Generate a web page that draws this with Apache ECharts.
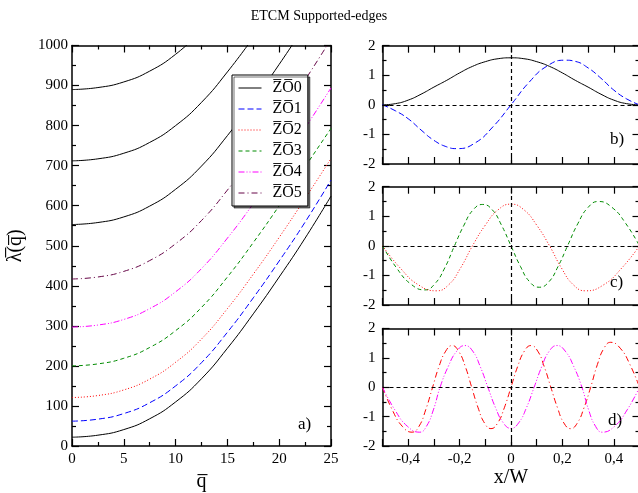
<!DOCTYPE html>
<html>
<head>
<meta charset="utf-8">
<script src="https://cdn.jsdelivr.net/npm/echarts@6/dist/echarts.min.js"></script>
<style>
html,body{margin:0;padding:0;background:#fff;}
#chart{width:638px;height:493px;}
</style>
</head>
<body>
<div id="chart"></div>
<script>
// ---------- Panel a) : dispersion curves ----------
const qVals = [0, 2.5, 5, 7.5, 10, 12.5, 15, 17.5, 20, 22.5, 25];
const ZO0 = [22, 27, 41, 68, 110, 168, 244, 330, 422, 519, 624];
const ZO1 = [62, 67, 81, 108, 150, 208, 284, 370, 462, 559, 664];
const ZO2 = [121, 126, 140, 167, 209, 267, 343, 429, 521, 618, 718];
const ZO3 = [200, 205, 219, 246, 288, 346, 422, 508, 600, 697, 793];
const ZO4 = [297, 302, 316, 343, 385, 443, 519, 605, 697, 794, 894];
const ZO5 = [417, 422, 436, 463, 505, 563, 639, 725, 817, 914, 1016];
const ZO0_hi1 = [553, 558, 572, 599, 641, 699, 775, 861, 953, 1050];
const ZO0_hi2 = [712, 717, 731, 758, 800, 858, 934, 1020];
const ZO0_hi3 = [890, 895, 909, 936, 978, 1036];

// ---------- Panel b) ----------
const bX0 = [-0.5,-0.45,-0.4,-0.35,-0.3,-0.25,-0.2,-0.15,-0.1,-0.05,0,0.05,0.1,0.15,0.2,0.25,0.3,0.35,0.4,0.45,0.5];
const bY0 = [0,0.04,0.16,0.36,0.6,0.83,1.08,1.3,1.46,1.56,1.59,1.56,1.46,1.3,1.08,0.83,0.6,0.36,0.16,0.04,0];
const bX1 = [-0.5,-0.45,-0.4,-0.35,-0.3,-0.25,-0.21,-0.14,-0.07,0,0.07,0.14,0.21,0.25,0.3,0.35,0.4,0.45,0.5];
const bY1 = [0,-0.2,-0.47,-0.85,-1.2,-1.42,-1.48,-1.29,-0.74,0,0.76,1.31,1.51,1.47,1.25,0.9,0.5,0.2,0];

// ---------- Panel c) ----------
const cX3 = [-0.5,-0.445,-0.39,-0.335,-0.297,-0.258,-0.22,-0.183,-0.147,-0.11,-0.073,-0.037,0,0.037,0.073,0.11,0.147,0.183,0.22,0.26,0.3,0.34,0.393,0.447,0.5];
const cY3 = [0,-0.75,-1.29,-1.49,-1.29,-0.75,0,0.7,1.22,1.4,1.22,0.7,0,-0.7,-1.22,-1.4,-1.22,-0.7,0,0.75,1.3,1.5,1.3,0.75,0];
const cX2 = [-0.5,-0.43,-0.36,-0.29,-0.243,-0.197,-0.15,-0.1,-0.05,0,0.05,0.1,0.15,0.197,0.243,0.29,0.36,0.43,0.5];
const cY2 = [0,-0.76,-1.32,-1.52,-1.32,-0.76,0,0.7,1.22,1.41,1.22,0.7,0,-0.76,-1.32,-1.52,-1.32,-0.76,0];

// ---------- Panel d) ----------
const dX5 = [-0.5,-0.462,-0.423,-0.385,-0.358,-0.332,-0.305,-0.28,-0.254,-0.229,-0.204,-0.178,-0.153,-0.128,-0.103,-0.078,-0.052,-0.026,0,0.026,0.052,0.078,0.104,0.129,0.155,0.181,0.206,0.232,0.258,0.284,0.31,0.336,0.362,0.388,0.425,0.463,0.5];
const dY5 = [0,-0.77,-1.33,-1.53,-1.33,-0.77,0,0.71,1.23,1.42,1.23,0.71,0,-0.7,-1.22,-1.41,-1.22,-0.7,0,0.71,1.23,1.42,1.23,0.71,0,-0.7,-1.22,-1.41,-1.22,-0.7,0,0.77,1.33,1.53,1.33,0.77,0];
const dX4 = [-0.5,-0.452,-0.403,-0.355,-0.329,-0.302,-0.276,-0.244,-0.211,-0.179,-0.149,-0.12,-0.09,-0.06,-0.03,0,0.03,0.06,0.09,0.12,0.149,0.179,0.211,0.244,0.276,0.302,0.329,0.355,0.403,0.452,0.5];
const dY4 = [0,-0.77,-1.33,-1.53,-1.33,-0.77,0,0.71,1.23,1.42,1.23,0.71,0,-0.7,-1.21,-1.4,-1.21,-0.7,0,0.71,1.23,1.42,1.23,0.71,0,-0.77,-1.33,-1.53,-1.33,-0.77,0];

const qTicks = [0, 5, 10, 15, 20, 25];
const lamTicks = [0, 100, 200, 300, 400, 500, 600, 700, 800, 900, 1000];
const modeTicks = [-2, -1, 0, 1, 2];
const xwTicks = [-0.4, -0.2, 0, 0.2, 0.4];

const names = ['Z\u0305O\u03050','Z\u0305O\u03051','Z\u0305O\u03052','Z\u0305O\u03053','Z\u0305O\u03054','Z\u0305O\u03055'];

const FONT = "'Liberation Serif', 'DejaVu Serif', serif";
const pairs = (xs, ys) => ys.map((y, i) => [xs[i], y]);

const chart = echarts.init(document.getElementById('chart'), null, {renderer: 'canvas'});

const grids = [
  {left: 72, top: 45.5, width: 259, height: 400.5},
  {left: 382.5, top: 45.7, width: 257, height: 118.3},
  {left: 382.5, top: 186.7, width: 257, height: 118.3},
  {left: 382.5, top: 328.5, width: 257, height: 117.5}
].map(g => Object.assign({outerBoundsMode: 'none', containLabel: false, show: false}, g));

const axLine = {show: true, onZero: false, lineStyle: {color: '#000', width: 1.5}};
function xAxes(gi, isLeft, showLabels, name) {
  const base = isLeft
    ? {type: 'value', min: 0, max: 25, interval: 5,
       minorTick: {show: true, splitNumber: 2, length: 4, lineStyle: {color: '#000', width: 1.2}}}
    : {type: 'value', min: -0.5, max: 0.5, interval: 0.1};
  const lab = {
    show: showLabels, color: '#000', fontFamily: FONT, fontSize: 15, margin: 6,
    formatter: isLeft ? (v => qTicks.includes(v) ? String(v) : '') : (v => {
      const k = Math.round(v * 10);
      const val = k / 10;
      if (!xwTicks.includes(val)) return '';
      return val === 0 ? '0' : String(val).replace('.', ',');
    })
  };
  const tick = {show: true, inside: true, length: 7, lineStyle: {color: '#000', width: 1.2}};
  return [
    Object.assign({}, base, {gridIndex: gi, position: 'bottom', axisLine: axLine, axisTick: tick,
      axisLabel: lab, splitLine: {show: false},
      name: name || '', nameLocation: 'middle', nameGap: 19,
      nameTextStyle: {color: '#000', fontFamily: FONT, fontSize: 20}}),
    Object.assign({}, base, {gridIndex: gi, position: 'top', axisLine: axLine, axisTick: tick,
      axisLabel: {show: false}, splitLine: {show: false}})
  ];
}
function yAxes(gi, isLeft, name) {
  const base = isLeft
    ? {type: 'value', min: 0, max: 1000, interval: 100}
    : {type: 'value', min: -2, max: 2, interval: 1};
  const minor = {show: true, splitNumber: 2, length: 4, lineStyle: {color: '#000', width: 1.2}};
  const tick = {show: true, inside: true, length: 7, lineStyle: {color: '#000', width: 1.2}};
  const lab = {show: true, color: '#000', fontFamily: FONT, fontSize: 15, margin: isLeft ? 4 : 7,
    formatter: isLeft ? (v => lamTicks.includes(v) ? String(v) : '') : (v => modeTicks.includes(v) ? String(v) : '')};
  return [
    Object.assign({}, base, {gridIndex: gi, position: 'left', axisLine: axLine, axisTick: tick,
      minorTick: minor, axisLabel: lab, splitLine: {show: false},
      name: name || '', nameLocation: 'middle', nameGap: 46, nameRotate: 90,
      nameTextStyle: {color: '#000', fontFamily: FONT, fontSize: 20}}),
    Object.assign({}, base, {gridIndex: gi, position: 'right', axisLine: axLine, axisTick: tick,
      minorTick: minor, axisLabel: {show: false}, splitLine: {show: false}})
  ];
}

const xAxis = [].concat(
  xAxes(0, true, true, 'q\u0305'),
  xAxes(1, false, false),
  xAxes(2, false, false),
  xAxes(3, false, true, 'x/W')
);
const yAxis = [].concat(
  yAxes(0, true, '\u03bb\u0305(q\u0305)'),
  yAxes(1, false),
  yAxes(2, false),
  yAxes(3, false)
);

const C = {black: '#000000', blue: '#0000ff', red: '#ff0000', green: '#008b00', magenta: '#ff00ff', maroon: '#670748'};
const styles = [
  {color: C.black, type: 'solid'},
  {color: C.blue, type: [6, 3]},
  {color: C.red, type: [1, 2]},
  {color: C.green, type: [4, 3]},
  {color: C.magenta, type: [6, 2, 1, 2, 1, 2]},
  {color: C.maroon, type: [6, 3, 1, 3]}
];

function line(name, data, gi, st, extra) {
  return Object.assign({
    type: 'line', name: name, data: data, xAxisIndex: gi * 2, yAxisIndex: gi * 2,
    showSymbol: false, symbol: 'none', smooth: 0.5, clip: true, silent: true,
    color: st.color,
    lineStyle: {color: st.color, width: 1, type: st.type}
  }, extra || {});
}

const zeroLines = {
  silent: true, symbol: ['none', 'none'], animation: false,
  label: {show: false},
  lineStyle: {color: '#000', width: 1.2, type: [4, 3]},
  data: [{yAxis: 0}, {xAxis: 0}]
};

const series = [
  line(names[0], pairs(qVals, ZO0), 0, styles[0]),
  line(names[1], pairs(qVals, ZO1), 0, styles[1]),
  line(names[2], pairs(qVals, ZO2), 0, styles[2]),
  line(names[3], pairs(qVals, ZO3), 0, styles[3]),
  line(names[4], pairs(qVals, ZO4), 0, styles[4]),
  line(names[5], pairs(qVals, ZO5), 0, styles[5]),
  line(names[0], pairs(qVals, ZO0_hi1), 0, styles[0]),
  line(names[0], pairs(qVals, ZO0_hi2), 0, styles[0]),
  line(names[0], pairs(qVals, ZO0_hi3), 0, styles[0]),
  // b)
  line('b0', pairs(bX0, bY0), 1, styles[0], {markLine: zeroLines}),
  line('b1', pairs(bX1, bY1), 1, styles[1]),
  // c)
  line('c3', pairs(cX3, cY3), 2, styles[3], {markLine: zeroLines}),
  line('c2', pairs(cX2, cY2), 2, styles[2]),
  // d)
  line('d5', pairs(dX5, dY5), 3, {color: C.red, type: [6, 3, 1, 3]}, {markLine: zeroLines}),
  line('d4', pairs(dX4, dY4), 3, styles[4])
];

const panelLabel = (txt, x, y) => ({
  type: 'text', left: x, top: y, silent: true,
  style: {text: txt, fill: '#000', font: "17px 'Liberation Serif', serif"}
});

chart.setOption({
  animation: false,
  backgroundColor: '#fff',
  title: {
    text: 'ETCM Supported-edges', left: 'center', top: 4,
    textStyle: {color: '#000', fontFamily: FONT, fontSize: 14, fontWeight: 'normal'}
  },
  legend: {
    data: names, left: 232, top: 75, orient: 'vertical',
    itemWidth: 23, itemHeight: 14, itemGap: 5,
    padding: [5, 6, 5, 6],
    backgroundColor: '#fff', borderColor: '#000', borderWidth: 1,
    shadowColor: 'rgba(0,0,0,0.55)', shadowBlur: 0, shadowOffsetX: 2, shadowOffsetY: 2,
    itemStyle: {opacity: 0},
    lineStyle: {width: 1},
    textStyle: {color: '#000', fontFamily: FONT, fontSize: 16, padding: [0, 0, 0, 6]},
    selectedMode: false
  },
  grid: grids,
  xAxis: xAxis,
  yAxis: yAxis,
  series: series,
  graphic: [
    panelLabel('a)', 298, 416),
    panelLabel('b)', 610, 131),
    panelLabel('c)', 610, 274),
    panelLabel('d)', 608, 412)
  ]
});
</script>
</body>
</html>
